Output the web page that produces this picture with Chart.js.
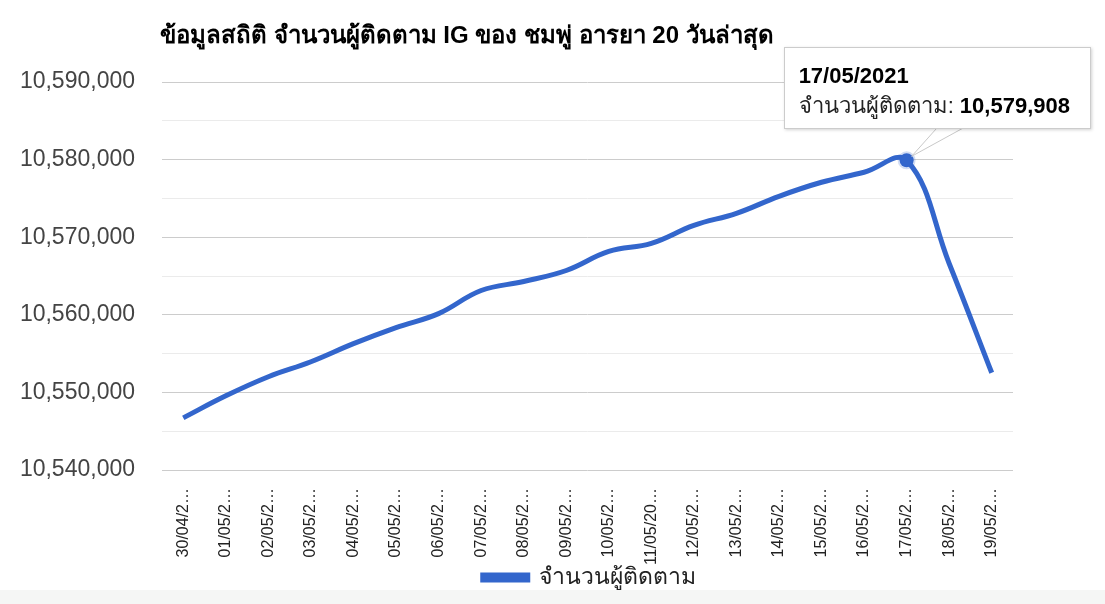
<!DOCTYPE html>
<html>
<head>
<meta charset="utf-8">
<script src="https://cdn.jsdelivr.net/npm/chart.js@4.4.1/dist/chart.umd.min.js"></script>
<style>
  html, body { margin: 0; padding: 0; background: #fff; }
  #wrap { position: relative; width: 1105px; height: 604px; background: #fff; overflow: hidden; }
  #band { position: absolute; left: 0; top: 590px; width: 1105px; height: 14px; background: #f5f6f5; }
  #title { position: absolute; left: 160px; top: 15px; font: bold 24px Arial, "Liberation Sans", sans-serif; color: #000; white-space: nowrap; }
  #tip { position: absolute; background: #fff; border: 1px solid #ccc; box-shadow: 1px 1px 3px rgba(0,0,0,0.18);
         font: 22px Arial, "Liberation Sans", sans-serif; color: #222; padding: 15px 14px 6px 14px; white-space: nowrap; box-sizing: border-box; line-height: 26px; }
  #tip .t { font-weight: bold; color: #000; margin-bottom: 4px; }
  #tip b { color: #000; }
</style>
</head>
<body>
<div id="wrap">
  <canvas id="c" width="1105" height="604"></canvas>
  <div id="band"></div>
  <div id="title">ข้อมูลสถิติ จำนวนผู้ติดตาม IG ของ ชมพู่ อารยา 20 วันล่าสุด</div>
  <div id="tip"></div>
</div>
<script>
const categories = ["30/04/2021","01/05/2021","02/05/2021","03/05/2021","04/05/2021","05/05/2021","06/05/2021","07/05/2021","08/05/2021","09/05/2021","10/05/2021","11/05/2021","12/05/2021","13/05/2021","14/05/2021","15/05/2021","16/05/2021","17/05/2021","18/05/2021","19/05/2021"];
const tickLabels = ["30/04/2…","01/05/2…","02/05/2…","03/05/2…","04/05/2…","05/05/2…","06/05/2…","07/05/2…","08/05/2…","09/05/2…","10/05/2…","11/05/20…","12/05/2…","13/05/2…","14/05/2…","15/05/2…","16/05/2…","17/05/2…","18/05/2…","19/05/2…"];
const followers = [10546720,10549560,10552015,10553950,10556280,10558350,10560155,10563130,10564290,10565710,10568165,10569200,10571520,10573075,10575270,10577080,10578370,10579908,10566615,10552530];
const seriesName = "จำนวนผู้ติดตาม";
const yMin = 10540000, yMax = 10590000, yStep = 5000;
const highlightIndex = 17;

const FONT = 'Arial, "Liberation Sans", sans-serif';
const fmt = v => v.toLocaleString('en-US');

const tailPlugin = {
  id: 'tail',
  beforeDraw(chart) {
    const L = chart.legend, a = chart.chartArea;
    if (L && a) {
      const w = L.right - L.left;
      L.left = (a.left + a.right) / 2 - w / 2 + 2;
      L.right = L.left + w;
    }
  },
  afterDraw(chart) {
    const el = chart.getDatasetMeta(0).data[highlightIndex];
    if (!el) return;
    const px = el.x, py = el.y;
    const tip = document.getElementById('tip');
    const boxLeft = px - 123, boxTop = py - 113;
    tip.style.left = boxLeft + 'px';
    tip.style.top = boxTop + 'px';
    tip.style.width = '307px';
    tip.style.height = '82px';
    tip.innerHTML = '<div class="t">' + categories[highlightIndex] + '</div>' + seriesName + ': <b>' + fmt(followers[highlightIndex]) + '</b>';
    const bottom = boxTop + 81;
    const ctx = chart.ctx;
    ctx.save();
    ctx.beginPath();
    ctx.moveTo(px + 30, bottom);
    ctx.lineTo(px + 5, py - 4);
    ctx.lineTo(px + 56, bottom);
    ctx.closePath();
    ctx.fillStyle = '#fff';
    ctx.fill();
    ctx.beginPath();
    ctx.moveTo(px + 30, bottom);
    ctx.lineTo(px + 5, py - 4);
    ctx.lineTo(px + 56, bottom);
    ctx.strokeStyle = '#c8c8c8';
    ctx.lineWidth = 1;
    ctx.stroke();
    ctx.restore();
  }
};

new Chart(document.getElementById('c'), {
  type: 'line',
  data: {
    labels: categories,
    datasets: [{
      label: seriesName,
      data: followers,
      borderColor: '#3366cc',
      backgroundColor: '#3366cc',
      borderWidth: 5,
      tension: 0.4,
      fill: false,
      pointRadius: c => c.dataIndex === highlightIndex ? 7 : 0,
      pointBackgroundColor: '#3366cc',
      pointBorderColor: 'rgba(51,102,204,0.22)',
      pointBorderWidth: 4,
      pointHoverRadius: 0
    }]
  },
  options: {
    responsive: false,
    animation: false,
    events: [],
    layout: { padding: { top: 82, right: 92, left: 0, bottom: 5 } },
    scales: {
      x: {
        offset: true,
        grid: { display: false, drawTicks: false },
        border: { display: false },
        ticks: {
          autoSkip: false,
          minRotation: 90, maxRotation: 90,
          padding: 18,
          color: '#222',
          font: { family: FONT, size: 16 },
          callback: (v, i) => tickLabels[i]
        },
        afterFit: s => { s.height = 95; }
      },
      y: {
        min: yMin, max: yMax,
        grid: {
          drawTicks: false,
          color: c => (c.tick && c.tick.value % 10000 === 0) ? '#cccccc' : '#ebebeb',
          lineWidth: 1
        },
        border: { display: false },
        ticks: {
          stepSize: yStep,
          padding: 27,
          color: '#444',
          font: { family: FONT, size: 23 },
          callback: v => (v % 10000 === 0) ? fmt(v) : ''
        },
        afterFit: s => { s.width = 162; }
      }
    },
    plugins: {
      legend: {
        position: 'bottom',
        labels: {
          color: '#222',
          font: { family: FONT, size: 23 },
          boxWidth: 45, boxHeight: 5,
          padding: 1
        }
      },
      tooltip: { enabled: false },
      title: { display: false }
    }
  },
  plugins: [tailPlugin]
});
</script>
</body>
</html>
